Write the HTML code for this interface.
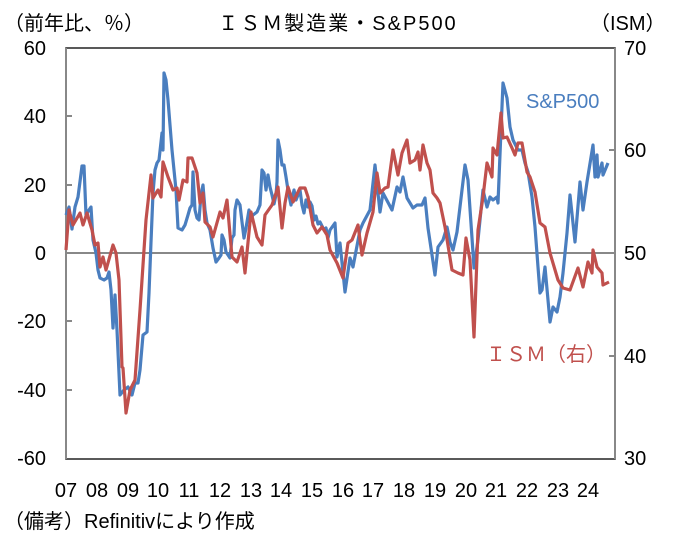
<!DOCTYPE html><html><head><meta charset="utf-8"><style>body{margin:0;background:#fff}svg{display:block}text{font-family:"Liberation Sans","Noto Sans CJK JP",sans-serif;font-size:20px;fill:#000}</style></head><body>
<svg width="680" height="546" viewBox="0 0 680 546">
<rect x="66" y="48" width="549" height="411" fill="none" stroke="#222" stroke-width="1.5"/>
<line x1="66" y1="48" x2="66" y2="459" stroke="#888" stroke-width="2"/>
<line x1="615" y1="48" x2="615" y2="459" stroke="#888" stroke-width="2"/>
<line x1="66" y1="253" x2="615" y2="253" stroke="#888" stroke-width="2"/>
<g stroke="#888" stroke-width="2">
<line x1="66" y1="116" x2="72" y2="116"/><line x1="66" y1="185" x2="72" y2="185"/><line x1="66" y1="321" x2="72" y2="321"/><line x1="66" y1="390" x2="72" y2="390"/>
<line x1="609" y1="150" x2="615" y2="150"/><line x1="609" y1="356" x2="615" y2="356"/>
</g>
<polyline fill="none" stroke="#4a7ebf" stroke-width="3.2" stroke-linejoin="round" points="66,215 69,207 72,229 75,207 78,197 82,166 84,166 86,215 89,210 91,207 93,240 96,253 98,270 100,278 104,280 107,278 109,272 111,290 113,328 115,295 117,330 120,395 124,390 128,387 132,395 135,383 138,383 140,370 143,335 147,332 149,293 151,242 153,193 155,170 157,163 159,160 162,133 163,150 164,73 166,80 168,100 170,125 172,150 174,170 176,190 178,228 182,230 185,225 188,215 190,208 192,205 193,172 195,210 197,218 199,220 201,195 203,185 205,210 207,223 210,230 213,248 216,262 219,258 221,255 222,235 224,240 226,252 228,255 230,258 232,238 234,235 235,210 237,200 240,205 242,222 244,238 246,228 248,216 249,210 251,218 253,215 257,212 260,205 262,170 264,173 266,190 268,175 270,187 272,195 274,204 276,195 277,182 278,140 280,150 282,165 284,165 286,177 288,190 291,205 294,190 296,200 298,195 300,190 302,205 304,213 306,200 308,207 310,202 312,206 314,220 316,216 318,224 320,222 322,226 324,230 326,228 328,238 330,230 335,223 337,257 340,243 345,292 350,258 353,267 360,230 363,223 370,210 375,165 380,212 383,193 392,210 397,187 400,192 403,177 407,198 413,208 417,205 422,205 425,198 428,228 435,275 438,247 443,240 447,227 450,242 453,250 457,232 462,190 465,165 468,180 472,238 474,268 478,240 483,190 487,207 490,197 493,200 497,197 498,203 501,130 503,83 507,98 510,127 513,140 518,150 522,150 525,163 528,172 532,197 535,227 538,267 540,293 542,290 545,267 550,322 553,307 557,312 560,297 563,273 567,233 570,195 575,242 580,182 583,210 587,182 593,145 595,177 597,155 598,177 602,163 603,175 608,163"/>
<polyline fill="none" stroke="#c0504d" stroke-width="3.2" stroke-linejoin="round" points="66,250 69,210 73,225 80,213 83,225 87,213 92,230 95,245 98,243 100,267 103,257 106,270 113,245 116,253 119,280 122,367 123,368 126,413 130,390 135,380 140,310 146,220 151,175 153,198 158,190 161,197 163,162 168,177 173,190 177,188 179,200 183,180 187,182 188,158 192,158 197,173 200,203 203,193 205,222 210,227 213,237 220,212 223,218 227,200 232,257 237,262 242,247 245,273 251,212 257,237 262,245 265,215 272,205 278,187 282,228 285,203 288,187 293,202 300,188 305,188 308,197 313,225 317,233 322,227 327,235 330,250 337,263 343,278 348,243 352,240 358,225 362,255 367,233 373,212 377,173 380,193 385,188 388,187 393,150 398,175 402,153 407,140 410,163 415,160 418,152 420,170 423,145 427,163 430,170 433,193 437,198 440,203 445,227 452,270 458,273 463,275 466,238 470,260 474,337 478,230 483,197 487,163 492,177 493,148 497,155 501,113 503,138 507,137 512,148 515,155 518,143 522,143 527,172 530,177 535,192 540,223 545,227 550,253 558,280 563,288 570,290 578,268 583,287 588,262 592,273 593,250 597,267 602,273 603,285 609,282"/>
<text x="338" y="30" text-anchor="middle" style="letter-spacing:2px">ＩＳＭ製造業・S&amp;P500</text>
<text x="4" y="30">（前年比、％）</text>
<text x="590" y="30">（ISM）</text>
<g text-anchor="end"><text x="46" y="55">60</text><text x="46" y="123">40</text><text x="46" y="192">20</text><text x="46" y="260">0</text><text x="46" y="328">-20</text><text x="46" y="397">-40</text><text x="46" y="465">-60</text></g>
<g><text x="624" y="55">70</text><text x="624" y="157">60</text><text x="624" y="260">50</text><text x="624" y="363">40</text><text x="624" y="465">30</text></g>
<g text-anchor="middle"><text x="66" y="497">07</text><text x="97" y="497">08</text><text x="128" y="497">09</text><text x="158" y="497">10</text><text x="189" y="497">11</text><text x="220" y="497">12</text><text x="251" y="497">13</text><text x="281" y="497">14</text><text x="312" y="497">15</text><text x="343" y="497">16</text><text x="373" y="497">17</text><text x="404" y="497">18</text><text x="435" y="497">19</text><text x="466" y="497">20</text><text x="496" y="497">21</text><text x="527" y="497">22</text><text x="558" y="497">23</text><text x="588" y="497">24</text></g>
<text x="526" y="108" style="fill:#4a7ebf">S&amp;P500</text>
<text x="486" y="361" style="fill:#c0504d">ＩＳＭ（右）</text>
<text x="4" y="528">（備考）Refinitivにより作成</text>
</svg></body></html>
